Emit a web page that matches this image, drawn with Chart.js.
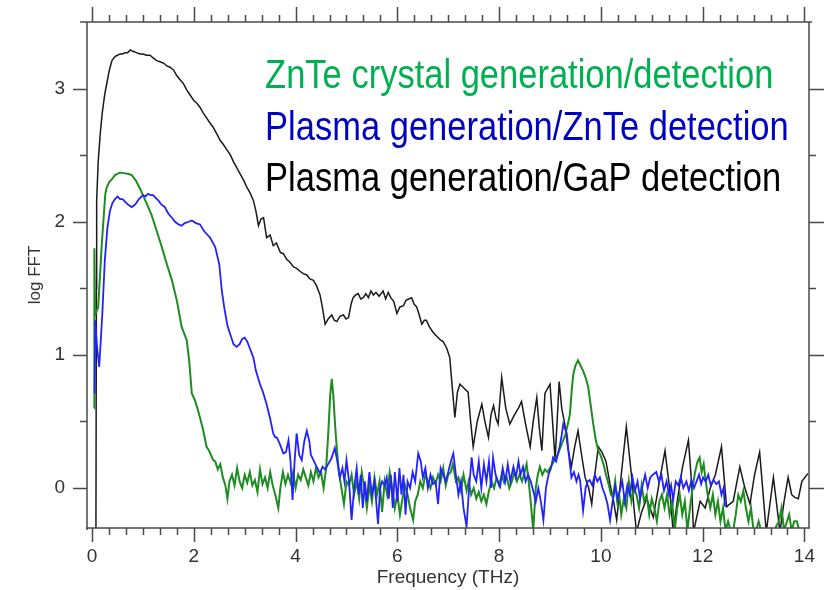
<!DOCTYPE html>
<html>
<head>
<meta charset="utf-8">
<script src="https://cdn.jsdelivr.net/npm/chart.js@4/dist/chart.umd.min.js"></script>
<style>
html,body{margin:0;padding:0;background:#fff;}
#wrap{width:836px;height:590px;}
</style>
</head>
<body>
<div id="wrap"><canvas id="c" width="836" height="590"></canvas></div>
<script>
// ---------- DATA ----------
const seriesNames = [
  "ZnTe crystal generation/detection",
  "Plasma generation/ZnTe detection",
  "Plasma generation/GaP detection"
];
const xTickValues = [0, 2, 4, 6, 8, 10, 12, 14];
const yTickValues = [0, 1, 2, 3];
const xMinorStep = 1 / 3;
const yMinorValues = [0.5, 1.5, 2.5];

const greenFreq = [0.04,0.045,0.06,0.12,0.19,0.26,0.29,0.34,0.39,0.45,0.5,0.55,0.62,0.7,0.78,0.86,0.94,1.0,1.08,1.17,1.27,1.37,1.47,1.57,1.67,1.76,1.82,1.86,1.91,1.96,2.02,2.07,2.12,2.18,2.25,2.3,2.38,2.42,2.47,2.52,2.57,2.62,2.66,2.7,2.75,2.8,2.85,2.9,2.95,3.0,3.05,3.1,3.15,3.2,3.25,3.3,3.35,3.4,3.45,3.5,3.55,3.6,3.66,3.7,3.75,3.8,3.85,3.9,3.95,4.0,4.05,4.1,4.15,4.2,4.25,4.3,4.35,4.4,4.45,4.5,4.55,4.6,4.64,4.68,4.71,4.74,4.78,4.81,4.85,4.9,4.95,5.0,5.05,5.1,5.15,5.2,5.25,5.3,5.35,5.4,5.45,5.5,5.55,5.6,5.65,5.7,5.75,5.8,5.85,5.9,5.95,6.0,6.05,6.1,6.15,6.2,6.25,6.31,6.35,6.4,6.45,6.5,6.55,6.6,6.65,6.7,6.75,6.8,6.85,6.9,6.95,7.0,7.05,7.09,7.15,7.2,7.25,7.3,7.36,7.4,7.45,7.5,7.55,7.6,7.65,7.7,7.75,7.8,7.85,7.9,7.95,8.0,8.05,8.1,8.15,8.2,8.25,8.3,8.35,8.4,8.45,8.5,8.54,8.58,8.62,8.67,8.72,8.76,8.8,8.85,8.9,8.95,9.0,9.06,9.1,9.15,9.2,9.25,9.3,9.35,9.39,9.43,9.46,9.5,9.55,9.6,9.65,9.7,9.75,9.8,9.85,9.9,9.95,10.0,10.05,10.1,10.15,10.2,10.24,10.28,10.32,10.36,10.4,10.45,10.5,10.55,10.6,10.65,10.7,10.75,10.8,10.85,10.9,10.95,11.0,11.05,11.1,11.15,11.2,11.25,11.3,11.35,11.4,11.45,11.5,11.55,11.6,11.65,11.7,11.75,11.8,11.85,11.9,11.94,11.98,12.02,12.06,12.1,12.15,12.2,12.25,12.3,12.35,12.4,12.45,12.5,12.55,12.6,12.65,12.7,12.75,12.8,12.85,12.9,12.95,13.0,13.05,13.1,13.15,13.2,13.3,13.4,13.5,13.55,13.6,13.7,13.75,13.8,13.85,13.9];
const greenLog = [0.6,1.8,1.3,1.36,1.83,2.21,2.26,2.3,2.32,2.35,2.36,2.37,2.365,2.36,2.35,2.31,2.25,2.2,2.13,2.05,1.93,1.81,1.68,1.56,1.4,1.21,1.15,1.11,0.95,0.71,0.66,0.6,0.53,0.44,0.31,0.28,0.21,0.2,0.14,0.18,0.08,0.02,-0.08,0.05,0.1,0.02,0.15,0.05,0.0,0.1,0.04,0.12,0.02,0.06,-0.03,0.14,0.03,0.08,0.0,0.12,0.02,-0.05,-0.15,0.0,0.12,0.03,0.1,0.04,0.12,0.0,0.1,0.06,0.14,0.08,0.02,0.12,0.05,0.15,0.08,0.12,0.0,0.15,0.4,0.7,0.82,0.7,0.45,0.3,0.12,0.0,-0.12,0.05,0.02,0.1,-0.05,0.05,-0.08,0.12,0.0,-0.15,0.02,-0.1,0.08,-0.05,0.05,-0.18,0.05,-0.05,0.12,0.0,-0.15,-0.05,-0.2,-0.08,0.02,-0.05,-0.15,-0.24,-0.1,-0.05,0.05,0.0,0.1,0.05,0.0,0.08,0.03,0.1,0.05,0.15,0.02,0.1,0.12,0.18,0.05,0.08,-0.02,0.1,-0.02,0.05,-0.05,0.0,-0.08,-0.03,-0.1,-0.05,-0.12,-0.02,0.05,0.0,0.08,0.02,0.1,0.04,0.08,0.0,0.05,0.12,0.05,0.1,0.05,0.12,0.18,0.05,-0.1,-0.32,0.0,0.1,0.16,0.1,0.14,0.12,0.15,0.19,0.22,0.25,0.3,0.35,0.4,0.48,0.55,0.75,0.86,0.92,0.96,0.92,0.88,0.83,0.76,0.62,0.48,0.36,0.28,0.24,0.18,0.1,0.03,-0.05,-0.07,0.05,-0.1,-0.05,-0.2,-0.08,-0.15,0.05,-0.1,0.0,-0.05,-0.15,0.02,-0.1,-0.05,-0.2,-0.08,-0.15,-0.25,-0.1,-0.05,-0.15,-0.05,-0.2,-0.1,-0.32,-0.15,-0.05,-0.2,-0.1,-0.32,-0.15,0.0,0.12,0.2,0.23,0.12,0.18,0.05,-0.05,-0.15,-0.05,-0.2,-0.1,-0.25,-0.15,-0.32,-0.25,-0.32,-0.32,-0.2,-0.05,-0.1,-0.02,-0.15,-0.25,-0.15,-0.32,-0.32,-0.25,-0.32,-0.32,-0.32,-0.32,-0.25,-0.15,-0.32,-0.2,-0.32,-0.25,-0.25,-0.32];

const blueFreq = [0.05,0.06,0.1,0.14,0.2,0.25,0.3,0.35,0.4,0.45,0.5,0.55,0.6,0.65,0.7,0.78,0.85,0.92,1.0,1.05,1.1,1.15,1.2,1.25,1.3,1.36,1.43,1.5,1.57,1.63,1.7,1.76,1.82,1.9,1.96,2.04,2.12,2.2,2.32,2.42,2.5,2.55,2.6,2.66,2.71,2.78,2.84,2.9,2.95,3.0,3.05,3.1,3.17,3.22,3.3,3.36,3.43,3.5,3.56,3.6,3.63,3.68,3.72,3.76,3.81,3.86,3.9,3.94,3.98,4.02,4.07,4.12,4.17,4.22,4.27,4.3,4.35,4.4,4.44,4.48,4.53,4.58,4.64,4.7,4.77,4.82,4.87,4.92,4.96,5.0,5.05,5.1,5.15,5.2,5.24,5.28,5.32,5.36,5.4,5.45,5.5,5.55,5.62,5.66,5.7,5.75,5.79,5.83,5.87,5.91,5.95,6.0,6.04,6.08,6.12,6.16,6.2,6.25,6.3,6.35,6.41,6.46,6.5,6.55,6.6,6.65,6.7,6.75,6.8,6.85,6.9,6.95,7.0,7.05,7.1,7.15,7.2,7.25,7.3,7.36,7.41,7.46,7.5,7.55,7.6,7.65,7.7,7.75,7.8,7.84,7.88,7.93,7.97,8.02,8.07,8.12,8.17,8.22,8.28,8.33,8.38,8.42,8.47,8.52,8.57,8.62,8.67,8.72,8.77,8.82,8.87,8.92,8.97,9.02,9.06,9.12,9.19,9.23,9.26,9.3,9.33,9.37,9.42,9.47,9.52,9.56,9.59,9.62,9.65,9.7,9.74,9.78,9.83,9.88,9.93,9.98,10.03,10.08,10.13,10.18,10.23,10.28,10.33,10.37,10.42,10.47,10.52,10.57,10.62,10.67,10.72,10.77,10.82,10.87,10.92,10.97,11.02,11.09,11.14,11.19,11.24,11.29,11.34,11.38,11.42,11.47,11.52,11.57,11.62,11.68,11.73,11.78,11.83,11.88,11.93,11.97,12.01,12.06,12.11,12.16,12.21,12.27,12.32,12.37,12.41,12.44];
const blueLog = [0.71,1.26,1.05,0.91,1.3,1.71,1.95,2.08,2.14,2.17,2.19,2.17,2.17,2.15,2.13,2.11,2.13,2.17,2.2,2.19,2.21,2.2,2.2,2.18,2.16,2.13,2.11,2.06,2.03,2.0,1.98,1.97,1.99,2.0,2.01,1.99,1.98,1.93,1.88,1.81,1.68,1.48,1.35,1.22,1.16,1.08,1.06,1.08,1.12,1.13,1.1,1.05,0.98,0.88,0.78,0.72,0.63,0.52,0.41,0.38,0.38,0.34,0.3,0.26,0.27,0.36,0.2,-0.09,0.2,0.41,0.25,0.21,0.35,0.43,0.35,0.25,0.21,0.17,0.14,0.11,0.16,0.14,0.18,0.22,0.3,0.2,0.08,0.15,0.05,0.21,0.05,-0.24,0.0,0.15,-0.05,0.1,-0.15,0.05,-0.1,0.12,-0.05,0.05,-0.27,0.0,0.05,0.02,0.08,-0.08,0.1,-0.15,0.12,-0.1,0.15,-0.05,0.1,-0.2,0.05,0.0,0.12,0.05,0.26,0.2,0.08,0.15,0.0,0.1,0.03,0.05,-0.12,0.15,0.1,0.05,0.12,0.2,0.26,0.1,-0.05,0.05,-0.15,-0.29,0.0,0.23,0.1,0.05,0.2,0.0,0.18,0.05,0.2,0.0,0.23,0.1,0.05,0.01,0.15,0.05,0.18,0.05,0.16,0.08,0.2,0.1,0.16,0.05,0.1,0.05,-0.02,-0.1,0.0,-0.1,-0.24,0.0,0.1,0.15,0.23,0.2,0.31,0.4,0.48,0.44,0.41,0.25,0.08,0.12,0.05,0.1,0.06,-0.05,-0.17,0.0,0.05,0.06,0.02,0.1,0.05,0.08,0.0,-0.05,-0.12,-0.24,-0.1,0.02,-0.08,-0.02,0.05,-0.1,0.02,-0.05,0.08,-0.02,0.05,-0.08,0.02,0.1,0.0,0.08,0.1,0.12,0.05,0.1,-0.02,0.05,-0.05,0.02,-0.09,0.05,0.02,0.08,0.0,0.05,-0.02,0.06,0.0,0.05,0.1,0.03,0.08,0.05,0.1,0.02,0.06,0.03,0.05,-0.05,0.0,-0.14];

const blackFreq = [0.075,0.085,0.09,0.12,0.16,0.2,0.25,0.29,0.34,0.39,0.45,0.5,0.55,0.6,0.65,0.7,0.75,0.8,0.87,0.94,1.0,1.07,1.14,1.2,1.27,1.35,1.41,1.47,1.53,1.6,1.66,1.72,1.79,1.86,1.93,2.0,2.06,2.12,2.18,2.25,2.32,2.38,2.45,2.52,2.58,2.65,2.72,2.78,2.85,2.91,2.98,3.04,3.1,3.17,3.22,3.27,3.32,3.37,3.43,3.5,3.56,3.62,3.7,3.76,3.82,3.88,3.96,4.02,4.08,4.15,4.22,4.28,4.35,4.41,4.48,4.53,4.58,4.64,4.71,4.76,4.81,4.87,4.94,4.99,5.04,5.09,5.13,5.18,5.23,5.28,5.33,5.38,5.43,5.48,5.53,5.58,5.64,5.72,5.77,5.82,5.87,5.93,5.99,6.05,6.12,6.17,6.22,6.28,6.33,6.38,6.43,6.48,6.53,6.57,6.63,6.7,6.75,6.8,6.85,6.9,6.97,7.03,7.08,7.13,7.18,7.23,7.31,7.39,7.44,7.49,7.57,7.66,7.72,7.79,7.84,7.89,7.94,7.98,8.05,8.13,8.21,8.3,8.38,8.44,8.52,8.61,8.67,8.74,8.79,8.84,8.9,9.0,9.05,9.1,9.18,9.23,9.29,9.35,9.42,9.48,9.55,9.62,9.69,9.76,9.82,9.88,9.95,10.02,10.1,10.18,10.25,10.31,10.4,10.5,10.6,10.65,10.7,10.8,10.9,11.03,11.15,11.26,11.35,11.42,11.5,11.6,11.72,11.78,11.82,11.95,12.05,12.15,12.25,12.37,12.47,12.6,12.73,12.83,12.93,13.02,13.12,13.25,13.39,13.52,13.6,13.68,13.75,13.81,13.88,13.95,14.07];
const blackLog = [-0.4,1.5,2.16,2.45,2.66,2.82,2.96,3.04,3.14,3.21,3.24,3.25,3.26,3.26,3.27,3.27,3.29,3.28,3.27,3.26,3.26,3.25,3.25,3.23,3.21,3.2,3.19,3.17,3.16,3.14,3.1,3.07,3.04,2.99,2.95,2.91,2.89,2.86,2.82,2.78,2.74,2.71,2.66,2.61,2.58,2.54,2.5,2.45,2.4,2.36,2.31,2.26,2.22,2.16,2.08,1.97,2.02,2.03,1.88,1.9,1.82,1.84,1.77,1.76,1.72,1.7,1.66,1.65,1.63,1.61,1.6,1.57,1.56,1.52,1.45,1.35,1.23,1.27,1.3,1.26,1.25,1.29,1.3,1.27,1.28,1.38,1.43,1.45,1.46,1.42,1.43,1.46,1.43,1.48,1.45,1.47,1.44,1.48,1.42,1.47,1.43,1.4,1.31,1.36,1.37,1.41,1.42,1.43,1.38,1.36,1.3,1.23,1.26,1.26,1.21,1.17,1.15,1.13,1.11,1.1,1.05,0.98,0.75,0.53,0.72,0.78,0.75,0.72,0.5,0.31,0.5,0.63,0.5,0.38,0.55,0.62,0.52,0.48,0.83,0.6,0.48,0.55,0.6,0.65,0.48,0.31,0.5,0.68,0.45,0.28,0.71,0.78,0.5,0.21,0.8,0.6,0.48,0.3,0.16,0.3,0.43,0.25,0.08,0.0,-0.12,0.1,0.31,0.27,0.2,0.03,-0.1,-0.24,0.1,0.46,0.1,-0.15,-0.33,-0.18,-0.08,-0.22,0.05,0.28,0.0,-0.33,-0.1,0.15,0.36,0.05,-0.33,-0.1,-0.15,0.0,0.1,0.31,-0.14,-0.1,0.16,0.0,-0.12,0.1,0.27,-0.33,0.08,-0.33,-0.1,0.08,-0.05,-0.07,-0.08,0.05,0.11];

// ---------- STYLE ----------
const greenLine = '#1f8c22';
const blueLine = '#2222ff';
const blackLine = '#1a1a1a';
const legendColors = ['#00b050', '#0000c0', '#000000'];
const axisColor = '#4a4a4a';
const labelColor = '#333333';
const fontFamily = 'Arial, "Liberation Sans", Helvetica, sans-serif';

function pts(xs, ys) { return xs.map((v, i) => ({x: v, y: ys[i]})); }

const framePlugin = {
  id: 'frame',
  afterDatasetsDraw(chart) {
    const ctx = chart.ctx;
    const {left, right, top, bottom} = chart.chartArea;
    const xs = chart.scales.x, ys = chart.scales.y;
    ctx.save();
    ctx.strokeStyle = axisColor;
    ctx.lineWidth = 1.5;
    ctx.beginPath();
    ctx.moveTo(left - 7, top); ctx.lineTo(right + 3, top);
    ctx.moveTo(left, top); ctx.lineTo(left, bottom + 2);
    ctx.moveTo(left - 1, bottom); ctx.lineTo(right + 1, bottom);
    ctx.moveTo(right, top); ctx.lineTo(right, bottom);
    for (let i = 0; i * xMinorStep <= 14.0001; i++) {
      const v = i * xMinorStep;
      const isMajor = xTickValues.some(t => Math.abs(t - v) < 1e-6);
      const px = Math.round(xs.getPixelForValue(v)) + 0.5;
      const lenB = isMajor ? 14 : 7;
      const lenT = isMajor ? 15 : 7;
      ctx.moveTo(px, bottom); ctx.lineTo(px, bottom + lenB);
      ctx.moveTo(px, top); ctx.lineTo(px, top - lenT);
    }
    yTickValues.forEach(v => {
      const py = Math.round(ys.getPixelForValue(v)) + 0.5;
      ctx.moveTo(left, py); ctx.lineTo(left - 14, py);
      ctx.moveTo(right, py); ctx.lineTo(right + 15, py);
    });
    yMinorValues.forEach(v => {
      const py = Math.round(ys.getPixelForValue(v)) + 0.5;
      ctx.moveTo(left, py); ctx.lineTo(left - 7, py);
      ctx.moveTo(right, py); ctx.lineTo(right + 7, py);
    });
    ctx.stroke();

    // legend text block (compressed horizontally as in the reference)
    ctx.font = '40.5px ' + fontFamily;
    ctx.textBaseline = 'alphabetic';
    ctx.textAlign = 'left';
    const x0 = xs.getPixelForValue(3.4);
    const y0 = ys.getPixelForValue(3.005);
    const lineStep = 51.7;
    seriesNames.forEach((t, i) => {
      ctx.save();
      ctx.translate(x0, y0 + i * lineStep);
      ctx.scale(0.852, 1);
      ctx.fillStyle = legendColors[i];
      ctx.fillText(t, 0, 0);
      ctx.restore();
    });
    ctx.restore();
  }
};

new Chart(document.getElementById('c'), {
  type: 'line',
  data: {
    datasets: [
      {label: seriesNames[1], data: pts(blueFreq, blueLog), borderColor: blueLine, borderWidth: 1.8, pointRadius: 0, tension: 0, clip: 0},
      {label: seriesNames[0], data: pts(greenFreq, greenLog), borderColor: greenLine, borderWidth: 2, pointRadius: 0, tension: 0, clip: 0},
      {label: seriesNames[2], data: pts(blackFreq, blackLog), borderColor: blackLine, borderWidth: 1.5, pointRadius: 0, tension: 0, clip: 0}
    ]
  },
  options: {
    responsive: false,
    animation: false,
    devicePixelRatio: 1,
    layout: {padding: {top: 22, right: 27, left: 0, bottom: 0}},
    plugins: {legend: {display: false}, tooltip: {enabled: false}},
    scales: {
      x: {
        type: 'linear', position: 'bottom', min: -0.1, max: 14.09,
        afterBuildTicks: s => { s.ticks = xTickValues.map(v => ({value: v})); },
        afterFit: s => { s.height = 62; s.paddingLeft = 0; s.paddingRight = 0; },
        grid: {display: false, drawTicks: false},
        border: {display: false},
        ticks: {color: labelColor, font: {family: fontFamily, size: 19}, padding: 17, maxRotation: 0, autoSkip: false},
        title: {display: true, text: 'Frequency (THz)', color: labelColor, font: {family: fontFamily, size: 19}, padding: {top: 0, bottom: 1}}
      },
      y: {
        type: 'linear', position: 'left', min: -0.3, max: 3.5,
        afterBuildTicks: s => { s.ticks = yTickValues.map(v => ({value: v})); },
        afterFit: s => { s.width = 87; s.paddingTop = 0; s.paddingBottom = 0; },
        grid: {display: false, drawTicks: false},
        border: {display: false},
        ticks: {color: labelColor, font: {family: fontFamily, size: 19}, padding: 22},
        title: {display: true, text: 'log FFT', color: labelColor, font: {family: fontFamily, size: 17}, padding: {top: 25, bottom: 0}}
      }
    }
  },
  plugins: [framePlugin]
});
</script>
</body>
</html>
